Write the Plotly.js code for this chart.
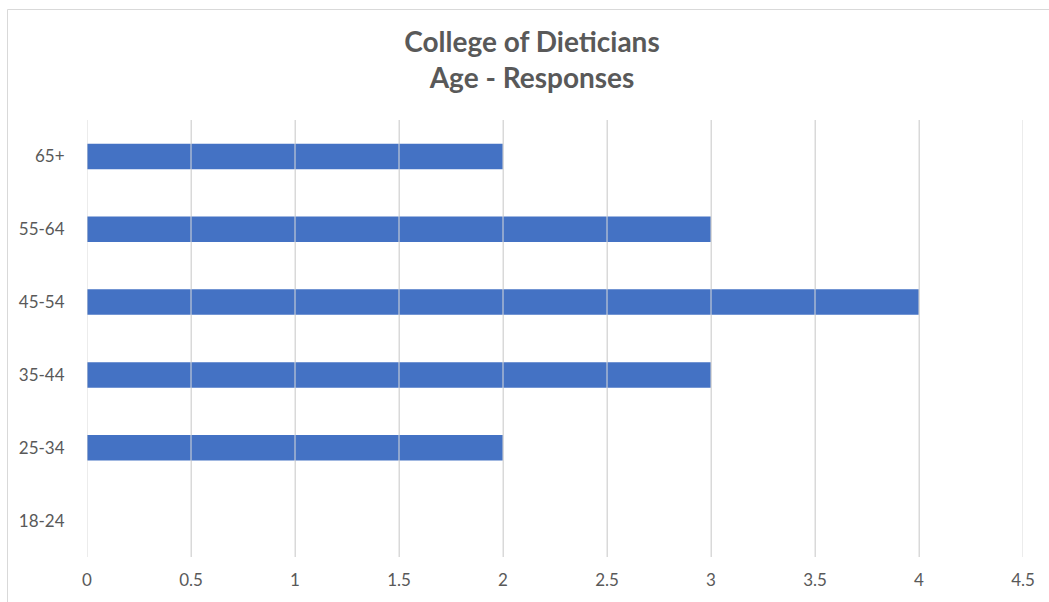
<!DOCTYPE html>
<html>
<head>
<meta charset="utf-8">
<script src="https://cdn.plot.ly/plotly-3.0.1.min.js"></script>
<style>
html,body{margin:0;padding:0;background:#fff;}
#chart{width:1049px;height:602px;}
</style>
</head>
<body>
<div id="chart"></div>
<script>
const categories = ["18-24", "25-34", "35-44", "45-54", "55-64", "65+"];
const responses = [0, 2, 3, 4, 3, 2];
const xTickValues = [0, 0.5, 1, 1.5, 2, 2.5, 3, 3.5, 4, 4.5];
const xTickLabels = ["0", "0.5", "1", "1.5", "2", "2.5", "3", "3.5", "4", "4.5"];
const chartTitle = "College of Dieticians<br>Age - Responses";

const W = 1049, H = 602;
const margin = {l: 87, r: 26, t: 120, b: 45};
const pw = W - margin.l - margin.r, ph = H - margin.t - margin.b;
const gridColor = "#d9d9d9";

// gridlines drawn above the bars, as in the reference
const gridShapes = xTickValues.map(v => ({
  type: "line", xref: "x", yref: "paper", x0: v, x1: v, y0: 0, y1: 1,
  line: {color: gridColor, width: 1}, layer: "above"
}));
// outer chart border
const border = {
  type: "rect", xref: "paper", yref: "paper",
  x0: (7.5 - margin.l) / pw, x1: (W + 5 - margin.l) / pw,
  y0: -(H + 5 - margin.t - ph) / ph, y1: (H - 9.5 - margin.b) / ph,
  line: {color: "#d9d9d9", width: 1}, layer: "below"
};

const trace = {
  type: "bar", orientation: "h",
  x: responses, y: categories,
  marker: {color: "#4472C4"},
  hoverinfo: "x+y"
};

const layout = {
  width: W, height: H,
  margin: margin,
  paper_bgcolor: "#ffffff", plot_bgcolor: "#ffffff",
  font: {family: "Lato, 'Open Sans', sans-serif", color: "#595959", size: 17},
  title: {
    text: chartTitle,
    font: {family: "Lato, 'Open Sans', sans-serif", size: 28, color: "#595959", weight: "bold"},
    x: 532 / W, xanchor: "center", xref: "container",
    y: 1 - 52 / H, yanchor: "top", yref: "container"
  },
  bargap: 0.65,
  showlegend: false,
  xaxis: {
    range: [0, 4.5], tickmode: "array", tickvals: xTickValues, ticktext: xTickLabels,
    showgrid: true, gridcolor: gridColor, zeroline: false, showline: false,
    ticks: "outside", ticklen: 8, tickcolor: "rgba(0,0,0,0)",
    tickfont: {size: 17, color: "#595959"}, fixedrange: true
  },
  yaxis: {
    type: "category", categoryorder: "array", categoryarray: categories,
    showgrid: false, zeroline: false, showline: false,
    ticks: "outside", ticklen: 18, tickcolor: "rgba(0,0,0,0)",
    tickfont: {size: 17, color: "#595959"}, fixedrange: true
  },
  shapes: gridShapes.concat([border])
};

Plotly.newPlot("chart", [trace], layout, {displayModeBar: false, staticPlot: true});
</script>
</body>
</html>
